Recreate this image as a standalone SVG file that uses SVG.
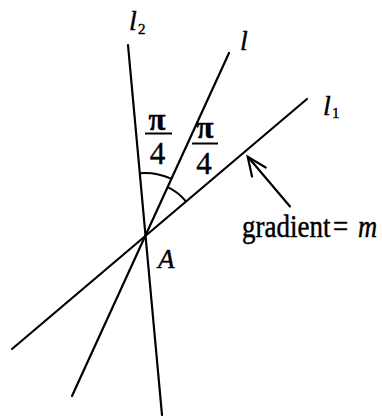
<svg xmlns="http://www.w3.org/2000/svg" width="382" height="416" viewBox="0 0 382 416">
<style>
.ln{stroke:#000;stroke-width:2.2;fill:none;stroke-linecap:round}
.arc{stroke:#000;stroke-width:2;fill:none}
.t{font-family:"Liberation Serif","Times New Roman",serif;fill:#000;stroke:#000;stroke-width:0.4}
.it{font-style:italic}
.pi{font-weight:bold}
</style>
<rect width="382" height="416" fill="#fff"/>
<g id="connectors">
<line id="line-l2" class="ln" x1="128" y1="45" x2="162" y2="415"/>
<line id="line-l" class="ln" x1="229" y1="53" x2="72" y2="396"/>
<line id="line-l1" class="ln" x1="307" y1="99" x2="12" y2="349"/>
<path id="arc-left" class="arc" d="M139.5,173.2 A62,62 0 0 1 171,178.7"/>
<path id="arc-right" class="arc" d="M167.2,186.9 A53,53 0 0 1 185.7,201.1"/>
<g id="gradient-arrow">
<line class="ln" x1="290" y1="206.5" x2="248.5" y2="157.5"/>
<polyline class="ln" points="252,176.5 247.7,156.7 265.7,167.5" stroke-linejoin="miter"/>
</g>
</g>
<g id="label-l2">
<text class="t it" x="129" y="30" font-size="28">l</text>
<text class="t" x="138" y="33.5" font-size="15">2</text>
</g>
<g id="label-l">
<text class="t it" x="240" y="50" font-size="28">l</text>
</g>
<g id="label-l1">
<text class="t it" x="323" y="115" font-size="28">l</text>
<text class="t" x="332" y="117.5" font-size="15">1</text>
</g>
<g id="angle-left">
<text class="t pi" x="157" y="130" font-size="31" text-anchor="middle">π</text>
<line x1="145" y1="133.5" x2="172" y2="133.5" stroke="#000" stroke-width="2"/>
<text class="t" x="157.5" y="163.5" font-size="31" text-anchor="middle">4</text>
</g>
<g id="angle-right">
<text class="t pi" x="205" y="138" font-size="31" text-anchor="middle">π</text>
<line x1="192" y1="143.5" x2="218" y2="143.5" stroke="#000" stroke-width="2"/>
<text class="t" x="204" y="173.5" font-size="31" text-anchor="middle">4</text>
</g>
<g id="label-A">
<text class="t it" x="158" y="267.5" font-size="27">A</text>
</g>
<g id="label-gradient">
<text class="t" transform="translate(242,237) scale(1,1.18)" font-size="27">gradient<tspan x="91">=</tspan></text>
<text class="t it" transform="translate(358,237) scale(1,1.18)" font-size="26.5">m</text>
</g>
</svg>
